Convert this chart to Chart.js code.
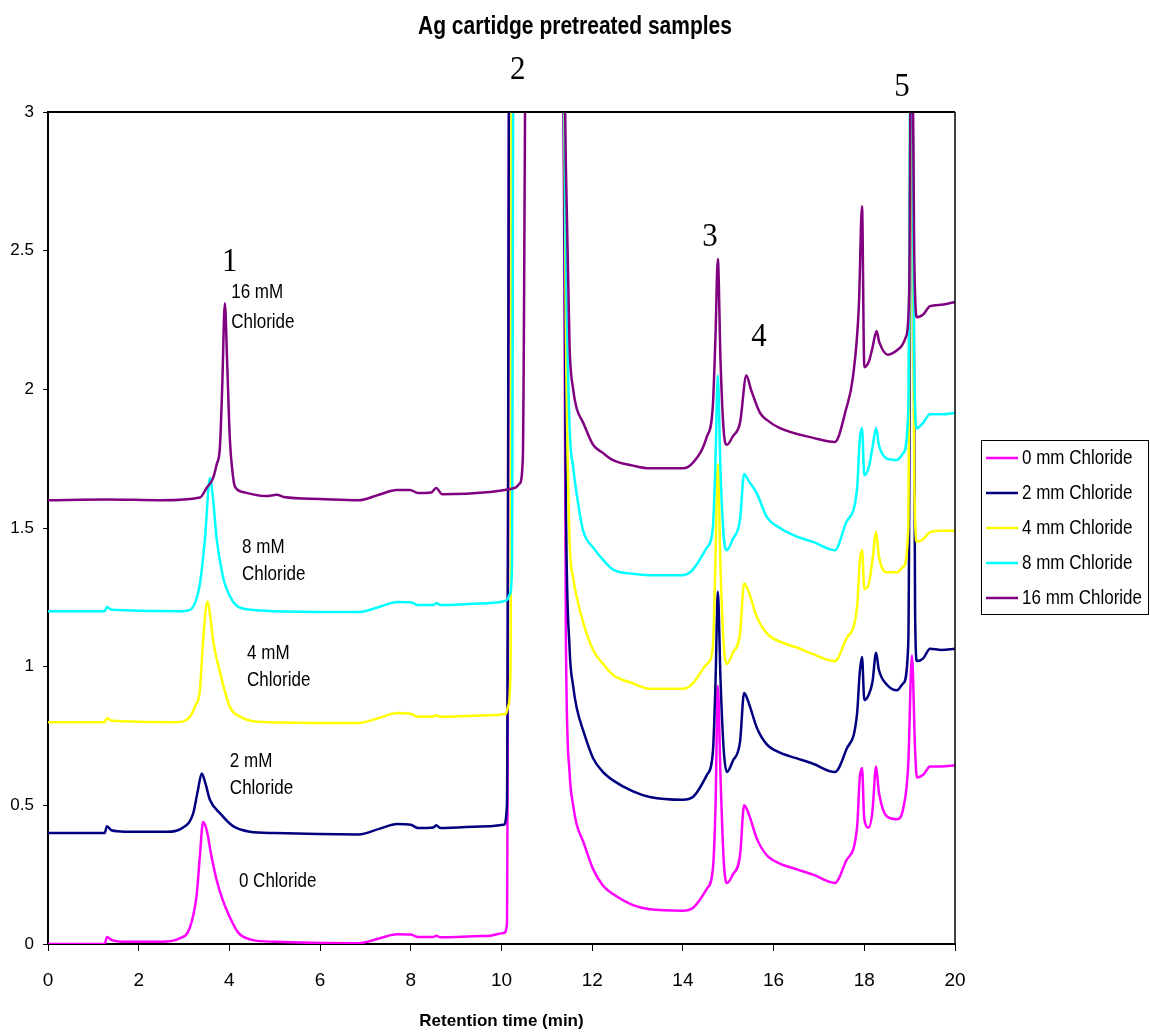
<!DOCTYPE html>
<html>
<head>
<meta charset="utf-8">
<script src="https://cdn.jsdelivr.net/npm/chart.js"></script>
<style>
  html, body { margin: 0; padding: 0; background: #fff; }
  #wrap { width: 1150px; height: 1034px; }
</style>
</head>
<body>
<div id="wrap"><canvas id="chromatogram" width="1150" height="1034"></canvas></div>
<script>
const SANS = '"Liberation Sans", Arial, sans-serif';
const SERIF = '"Liberation Serif", "Times New Roman", serif';

const chartTitle = "Ag cartidge pretreated samples";
const xTitle = "Retention time (min)";

const seriesNames = ["0 mm Chloride", "2 mm Chloride", "4 mm Chloride", "8 mm Chloride", "16 mm Chloride"];
const seriesColors = ["#ff00ff", "#000080", "#ffff00", "#00ffff", "#800080"];

// 0 mM chloride (magenta)
const time0 = [0, 1.25, 1.3, 1.4, 1.7, 2.5, 2.9, 3.13, 3.28, 3.35, 3.42, 3.5, 3.6, 3.72, 3.85, 4.0, 4.2, 4.5, 5.0,
  6.85, 7.3, 7.7, 8.0, 8.16, 8.5, 8.56, 8.65, 9.75, 10.05, 10.12, 10.18, 11.35, 11.42, 11.5, 11.58, 11.66, 11.8,
  12.02, 12.24, 12.46, 12.9, 13.27, 14.0, 14.22, 14.53, 14.66, 14.72, 14.77, 14.83, 14.9, 14.97, 15.1, 15.26,
  15.35, 15.45, 15.63, 15.85, 16.14, 16.5, 16.87, 17.35, 17.6, 17.84, 17.9, 17.95, 18.0, 18.1, 18.18, 18.26,
  18.32, 18.5, 18.72, 18.86, 18.97, 19.05, 19.12, 19.16, 19.3, 19.45, 19.7, 20];
const signal0 = [0, 0, 0.025, 0.015, 0.008, 0.008, 0.02, 0.06, 0.18, 0.32, 0.44, 0.41, 0.32, 0.23, 0.16, 0.1, 0.04, 0.015, 0.008,
  0.003, 0.02, 0.035, 0.034, 0.025, 0.025, 0.03, 0.024, 0.03, 0.04, 0.07, 3.6, 3.6, 1.1, 0.62, 0.5, 0.43, 0.37,
  0.27, 0.21, 0.18, 0.14, 0.125, 0.12, 0.13, 0.2, 0.27, 0.5, 0.93, 0.6, 0.3, 0.22, 0.25, 0.32,
  0.5, 0.47, 0.38, 0.32, 0.29, 0.27, 0.25, 0.22, 0.3, 0.42, 0.6, 0.635, 0.45, 0.42, 0.48, 0.64,
  0.55, 0.46, 0.45, 0.49, 0.65, 1.04, 0.7, 0.6, 0.61, 0.64, 0.64, 0.645];

// 2 mM chloride (navy)
const time2 = [0, 1.25, 1.3, 1.4, 1.7, 2.62, 2.98, 3.2, 3.3, 3.39, 3.47, 3.57, 3.8, 4.08, 4.45, 5.0,
  6.85, 7.3, 7.7, 8.0, 8.16, 8.5, 8.56, 8.65, 9.75, 10.05, 10.12, 10.18, 11.35, 11.42, 11.5, 11.58, 11.66, 11.8,
  12.02, 12.24, 12.46, 12.9, 13.27, 14.0, 14.22, 14.53, 14.66, 14.72, 14.77, 14.83, 14.9, 14.97, 15.1, 15.26,
  15.35, 15.45, 15.63, 15.85, 16.14, 16.5, 16.87, 17.35, 17.6, 17.84, 17.9, 17.95, 18.0, 18.1, 18.18, 18.26,
  18.32, 18.5, 18.72, 18.86, 18.97, 19.05, 19.12, 19.16, 19.3, 19.45, 19.7, 20];
const signal2 = [0.4, 0.4, 0.425, 0.41, 0.405, 0.405, 0.42, 0.47, 0.55, 0.615, 0.58, 0.52, 0.47, 0.425, 0.405, 0.4,
  0.395, 0.415, 0.433, 0.43, 0.418, 0.42, 0.428, 0.418, 0.425, 0.43, 0.5, 3.6, 3.6, 1.6, 1.07, 0.93, 0.85, 0.77,
  0.67, 0.62, 0.59, 0.55, 0.53, 0.52, 0.53, 0.61, 0.69, 0.95, 1.27, 0.95, 0.7, 0.62, 0.66, 0.73,
  0.905, 0.87, 0.78, 0.72, 0.69, 0.67, 0.65, 0.62, 0.7, 0.83, 0.98, 1.035, 0.88, 0.9, 0.945, 1.05,
  0.99, 0.935, 0.915, 0.94, 1.085, 3.6, 1.2, 1.02, 1.03, 1.065, 1.06, 1.065];

// 4 mM chloride (yellow)
const time4 = [0, 1.25, 1.3, 1.4, 2.84, 3.13, 3.25, 3.35, 3.42, 3.52, 3.58, 3.64, 3.8, 4.01, 4.23, 4.83,
  6.85, 7.3, 7.7, 8.0, 8.16, 8.5, 8.56, 8.65, 9.75, 10.1, 10.15, 10.2, 10.23, 11.35, 11.42, 11.5, 11.58, 11.66, 11.8,
  12.02, 12.24, 12.46, 12.9, 13.27, 14.0, 14.22, 14.53, 14.66, 14.72, 14.77, 14.83, 14.9, 14.97, 15.1, 15.26,
  15.35, 15.45, 15.63, 15.85, 16.14, 16.5, 16.87, 17.35, 17.6, 17.84, 17.9, 17.95, 18.0, 18.1, 18.18, 18.26,
  18.32, 18.5, 18.72, 18.86, 18.97, 19.03, 19.1, 19.16, 19.3, 19.45, 19.7, 20];
const signal4 = [0.8, 0.8, 0.815, 0.805, 0.8, 0.82, 0.86, 0.915, 1.095, 1.235, 1.18, 1.095, 0.975, 0.855, 0.82, 0.8,
  0.797, 0.815, 0.833, 0.83, 0.819, 0.82, 0.825, 0.819, 0.825, 0.83, 0.86, 1.0, 3.6, 3.6, 2.2, 1.46, 1.32, 1.25, 1.16,
  1.06, 1.01, 0.97, 0.94, 0.92, 0.92, 0.94, 1.01, 1.07, 1.4, 1.73, 1.35, 1.08, 1.01, 1.05, 1.12,
  1.3, 1.27, 1.18, 1.12, 1.09, 1.07, 1.045, 1.02, 1.1, 1.215, 1.38, 1.42, 1.28, 1.3, 1.385, 1.485,
  1.4, 1.34, 1.34, 1.36, 1.5, 3.6, 1.7, 1.45, 1.46, 1.485, 1.49, 1.49];

// 8 mM chloride (cyan)
const time8 = [0, 1.25, 1.3, 1.4, 2.9, 3.13, 3.35, 3.46, 3.57, 3.63, 3.72, 3.85, 3.94, 4.16, 4.5, 5.0,
  6.85, 7.3, 7.7, 8.0, 8.16, 8.5, 8.56, 8.65, 9.75, 10.12, 10.18, 10.23, 10.27, 11.35, 11.42, 11.5, 11.58, 11.66, 11.8,
  12.02, 12.24, 12.46, 12.9, 13.27, 14.0, 14.22, 14.53, 14.66, 14.72, 14.77, 14.83, 14.9, 14.97, 15.1, 15.26,
  15.35, 15.45, 15.63, 15.85, 16.14, 16.5, 16.87, 17.35, 17.6, 17.84, 17.9, 17.95, 18.0, 18.1, 18.18, 18.26,
  18.32, 18.5, 18.72, 18.86, 18.97, 19.03, 19.1, 19.16, 19.3, 19.45, 19.7, 20];
const signal8 = [1.2, 1.2, 1.215, 1.205, 1.2, 1.205, 1.3, 1.46, 1.68, 1.62, 1.46, 1.33, 1.28, 1.22, 1.205, 1.2,
  1.197, 1.215, 1.233, 1.232, 1.222, 1.222, 1.23, 1.222, 1.23, 1.24, 1.26, 1.35, 3.6, 3.6, 2.5, 1.87, 1.72, 1.62, 1.49,
  1.43, 1.385, 1.35, 1.335, 1.33, 1.33, 1.35, 1.43, 1.5, 1.75, 2.05, 1.7, 1.47, 1.42, 1.46, 1.53,
  1.695, 1.67, 1.625, 1.54, 1.5, 1.47, 1.45, 1.42, 1.52, 1.64, 1.82, 1.86, 1.69, 1.72, 1.79, 1.86,
  1.8, 1.75, 1.745, 1.77, 1.925, 3.6, 2.1, 1.86, 1.88, 1.91, 1.91, 1.915];

// 16 mM chloride (purple)
const time16 = [0, 1.3, 2.5, 3.35, 3.5, 3.64, 3.72, 3.79, 3.84, 3.9, 3.95, 4.01, 4.07, 4.12, 4.3, 4.8, 5.05, 5.2, 6.0,
  6.84, 7.3, 7.69, 7.98, 8.16, 8.45, 8.56, 8.69, 9.75, 10.3, 10.4, 10.47, 10.55, 11.35, 11.42, 11.5, 11.58, 11.66, 11.8,
  12.02, 12.24, 12.46, 12.9, 13.27, 14.0, 14.22, 14.53, 14.66, 14.72, 14.77, 14.83, 14.9, 14.97, 15.1, 15.26,
  15.4, 15.5, 15.7, 15.85, 16.14, 16.87, 17.35, 17.6, 17.75, 17.88, 17.95, 18.0, 18.1, 18.18, 18.27,
  18.33, 18.52, 18.79, 18.92, 18.99, 19.04, 19.1, 19.16, 19.3, 19.45, 19.7, 20];
const signal16 = [1.6, 1.603, 1.6, 1.61, 1.645, 1.68, 1.73, 1.79, 2.0, 2.31, 2.1, 1.82, 1.7, 1.65, 1.63, 1.615, 1.62, 1.612, 1.605,
  1.6, 1.62, 1.637, 1.637, 1.626, 1.628, 1.644, 1.622, 1.63, 1.645, 1.66, 1.75, 3.6, 3.6, 2.8, 2.16, 2.0, 1.93, 1.88,
  1.8, 1.77, 1.745, 1.725, 1.715, 1.715, 1.735, 1.83, 1.94, 2.2, 2.47, 2.1, 1.85, 1.8, 1.83, 1.88,
  2.05, 2.0, 1.915, 1.89, 1.86, 1.825, 1.81, 1.93, 2.045, 2.3, 2.66, 2.08, 2.1, 2.15, 2.21,
  2.17, 2.125, 2.15, 2.19, 2.35, 3.6, 2.5, 2.26, 2.27, 2.3, 2.305, 2.315];

const seriesTimes = [time0, time2, time4, time8, time16];
const seriesSignals = [signal0, signal2, signal4, signal8, signal16];

const xTicks = [0, 2, 4, 6, 8, 10, 12, 14, 16, 18, 20];
const yTicks = [0, 0.5, 1, 1.5, 2, 2.5, 3];

// peak numbers and curve notes, anchored in data units (time, signal)
const peakLabels = [
  { text: "1", t: 4.01, v: 2.46 },
  { text: "2", t: 10.36, v: 3.15 },
  { text: "3", t: 14.6, v: 2.55 },
  { text: "4", t: 15.68, v: 2.19 },
  { text: "5", t: 18.83, v: 3.09 }
];
const curveNotes = [
  { lines: ["16 mM", "Chloride"], t: 4.04, v: 2.35, gap: 30 },
  { lines: ["8 mM", "Chloride"], t: 4.28, v: 1.43, gap: 27 },
  { lines: ["4 mM", "Chloride"], t: 4.39, v: 1.05, gap: 27 },
  { lines: ["2 mM", "Chloride"], t: 4.01, v: 0.66, gap: 27 },
  { lines: ["0 Chloride"], t: 4.21, v: 0.227, gap: 27 }
];

const datasets = seriesNames.map((name, i) => ({
  label: name,
  data: seriesTimes[i].map((t, k) => ({ x: t, y: seriesSignals[i][k] })),
  borderColor: seriesColors[i],
  backgroundColor: seriesColors[i],
  borderWidth: 2.5,
  pointRadius: 0,
  cubicInterpolationMode: "monotone",
  fill: false,
  order: seriesNames.length - 1 - i   // later series drawn on top
}));

// the original text is a bit taller than wide, so stretch it vertically
function tallText(ctx, text, px, py, stretch) {
  ctx.save();
  ctx.translate(px, py);
  ctx.scale(1, stretch);
  ctx.fillText(text, 0, 0);
  ctx.restore();
}

const extras = {
  id: "extras",
  afterDraw(chart) {
    const { ctx, chartArea: a, scales: { x, y } } = chart;
    ctx.save();

    // top and right edges of the plot frame
    ctx.strokeStyle = "#000";
    ctx.lineWidth = 2;
    ctx.beginPath();
    ctx.moveTo(a.left, a.top);
    ctx.lineTo(a.right, a.top);
    ctx.stroke();
    ctx.lineWidth = 1.5;
    ctx.beginPath();
    ctx.moveTo(a.right, a.top);
    ctx.lineTo(a.right, a.bottom);
    ctx.stroke();

    // chart title
    ctx.fillStyle = "#000";
    ctx.font = "bold 21px " + SANS;
    ctx.textAlign = "center";
    ctx.textBaseline = "middle";
    tallText(ctx, chartTitle, chart.width / 2, 27, 1.2);

    // peak numbers
    ctx.font = "31px " + SERIF;
    peakLabels.forEach(p => {
      tallText(ctx, p.text, x.getPixelForValue(p.t), y.getPixelForValue(p.v), 1.1);
    });

    // curve notes
    ctx.font = "17px " + SANS;
    ctx.textAlign = "left";
    curveNotes.forEach(n => {
      const px = x.getPixelForValue(n.t);
      const py = y.getPixelForValue(n.v);
      n.lines.forEach((line, k) => tallText(ctx, line, px, py + k * n.gap, 1.22));
    });

    // legend with frame
    const lx = 981, ly = 440, lw = 167, lh = 174;
    ctx.lineWidth = 1;
    ctx.strokeStyle = "#000";
    ctx.strokeRect(lx + 0.5, ly + 0.5, lw, lh);
    ctx.font = "17px " + SANS;
    seriesNames.forEach((name, i) => {
      const ry = ly + 18 + i * 35;
      ctx.strokeStyle = seriesColors[i];
      ctx.lineWidth = 2.5;
      ctx.beginPath();
      ctx.moveTo(lx + 5, ry);
      ctx.lineTo(lx + 37, ry);
      ctx.stroke();
      ctx.fillStyle = "#000";
      tallText(ctx, name, lx + 41, ry, 1.22);
    });

    ctx.restore();
  }
};

new Chart(document.getElementById("chromatogram"), {
  type: "line",
  data: { datasets: datasets },
  options: {
    responsive: false,
    animation: false,
    devicePixelRatio: 1,
    layout: { padding: { left: 0, right: 195, top: 112, bottom: 0 } },
    plugins: {
      legend: { display: false },
      title: { display: false },
      tooltip: { enabled: false }
    },
    scales: {
      x: {
        type: "linear",
        min: 0,
        max: 20,
        afterFit: s => { s.height = 90; },
        afterBuildTicks: s => { s.ticks = xTicks.map(v => ({ value: v })); },
        ticks: { color: "#000", font: { family: SANS, size: 19 }, padding: 18, maxRotation: 0, callback: v => String(v) },
        grid: { drawOnChartArea: false, drawTicks: true, tickLength: 7, color: "#000", lineWidth: 1 },
        border: { color: "#000", width: 2 },
        title: { display: true, text: xTitle, color: "#000", font: { family: SANS, size: 17, weight: "bold" }, padding: { top: 0, bottom: 2 } }
      },
      y: {
        type: "linear",
        min: 0,
        max: 3,
        afterFit: s => { s.width = 48; },
        afterBuildTicks: s => { s.ticks = yTicks.map(v => ({ value: v })); },
        ticks: { color: "#000", font: { family: SANS, size: 17 }, padding: 9, callback: v => String(v) },
        grid: { drawOnChartArea: false, drawTicks: true, tickLength: 5, color: "#000", lineWidth: 1 },
        border: { color: "#000", width: 2 }
      }
    }
  },
  plugins: [extras]
});
</script>
</body>
</html>
